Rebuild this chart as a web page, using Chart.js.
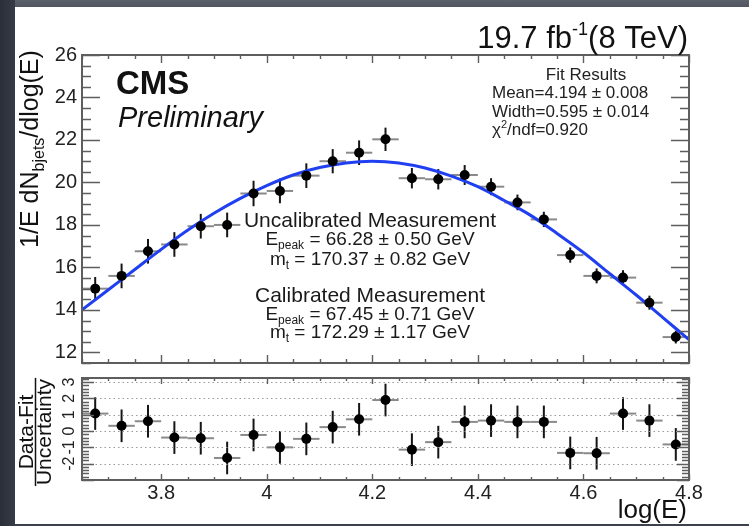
<!DOCTYPE html>
<html lang="en">
<head>
<meta charset="utf-8">
<title>b-jet energy peak</title>
<script src="https://cdn.jsdelivr.net/npm/chart.js@4.4.1/dist/chart.umd.min.js"></script>
<style>
  html, body { margin: 0; padding: 0; }
  body {
    width: 749px; height: 526px; overflow: hidden; position: relative;
    background: linear-gradient(180deg, #5d616b 0px, #50555f 7px, #3c414c 100%);
  }
  #panel { position: absolute; left: 15px; top: 7px; width: 734px; height: 517px; background: #fff; }
  #edge { position: absolute; left: 0; top: 0; width: 15px; height: 526px;
          background: linear-gradient(90deg, #2a2f39, #363b47); }
  canvas { position: absolute; left: 0; }
  #mainChart { top: 0; }
  #pullChart { top: 366px; }
</style>
</head>
<body>
<div id="edge"></div>
<div id="panel"></div>
<canvas id="mainChart" width="749" height="380"></canvas>
<canvas id="pullChart" width="749" height="160"></canvas>
<script>
/* b-jet energy spectrum with Gaussian fit and pull panel */

const FONT = "'Liberation Sans', Arial, Helvetica, sans-serif";

// histogram bins (log E)
const binCenters = [3.675, 3.725, 3.775, 3.825, 3.875, 3.925, 3.975, 4.025, 4.075, 4.125, 4.175, 4.225,
                    4.275, 4.325, 4.375, 4.425, 4.475, 4.525, 4.575, 4.625, 4.675, 4.725, 4.775];
const binHalfWidth = 0.025;
const yields = [15.0, 15.6, 16.76, 17.08, 17.94, 18.0, 19.48, 19.6, 20.32, 21.0, 21.4, 22.03,
                20.2, 20.15, 20.35, 19.8, 19.06, 18.26, 16.58, 15.6, 15.52, 14.34, 12.72];
const yieldErrors = [0.55, 0.58, 0.58, 0.58, 0.58, 0.58, 0.6, 0.58, 0.58, 0.57, 0.58, 0.55,
                     0.48, 0.48, 0.47, 0.4, 0.37, 0.36, 0.36, 0.35, 0.35, 0.33, 0.3];

// fitted curve
const fitX = [3.65, 3.70, 3.75, 3.80, 3.85, 3.90, 3.95, 4.00, 4.05, 4.10, 4.15, 4.20,
              4.25, 4.30, 4.35, 4.40, 4.45, 4.50, 4.55, 4.60, 4.65, 4.70, 4.75, 4.80];
const fitY = [14.0, 14.95, 15.9, 16.85, 17.75, 18.55, 19.25, 19.85, 20.35, 20.7, 20.92, 21.0,
              20.92, 20.68, 20.3, 19.8, 19.15, 18.45, 17.6, 16.7, 15.7, 14.7, 13.65, 12.6];

// (data - fit) / uncertainty
const pulls = [1.07, 0.32, 0.6, -0.4, -0.44, -1.65, -0.24, -1.0, -0.48, 0.24, 0.72, 1.9,
               -1.14, -0.68, 0.56, 0.64, 0.56, 0.56, -1.34, -1.36, 1.07, 0.64, -0.82];
const pullErrors = binCenters.map(() => 1);

const xTicks = [3.8, 4.0, 4.2, 4.4, 4.6, 4.8];
const yTicks = [12, 14, 16, 18, 20, 22, 24, 26];
const pullTicks = [-2, -1, 0, 1, 2, 3];

// ---- text helpers ----
function setFont(ctx, p) {
    ctx.font = `${p.style || ''} ${p.size}px ${FONT}`;
}

function richWidth(ctx, parts) {
    let w = 0;
    parts.forEach(p => { setFont(ctx, p); w += ctx.measureText(p.text).width; });
    return w;
}

function drawRich(ctx, parts, x, y, align) {
    const w = richWidth(ctx, parts);
    let cx = align === 'center' ? x - w / 2 : align === 'right' ? x - w : x;
    ctx.textAlign = 'left';
    ctx.textBaseline = 'alphabetic';
    parts.forEach(p => {
        setFont(ctx, p);
        ctx.fillText(p.text, cx, y + (p.dy || 0));
        cx += ctx.measureText(p.text).width;
    });
}

// ---- ROOT style frame with inward ticks ----
function rootFrame(t) {
    return {
        id: 'rootFrame',
        afterDatasetsDraw(chart) {
            const { ctx, chartArea: a, scales: { x, y } } = chart;
            ctx.save();
            ctx.strokeStyle = '#5e5e5e';
            ctx.lineWidth = 1.4;
            ctx.beginPath();
            const nx = Math.round((x.max - t.xStart) / t.xMinor);
            for (let i = 0; i <= nx; i++) {
                const v = t.xStart + i * t.xMinor;
                const r = v / t.xMajor;
                const len = Math.abs(r - Math.round(r)) < 1e-6 ? t.xMajorLen : t.xMinorLen;
                const px = Math.round(x.getPixelForValue(v)) + 0.5;
                ctx.moveTo(px, a.bottom); ctx.lineTo(px, a.bottom - len);
                ctx.moveTo(px, a.top); ctx.lineTo(px, a.top + len);
            }
            const ny = Math.round((y.max - y.min) / t.yMinor);
            for (let i = 0; i <= ny; i++) {
                const v = y.min + i * t.yMinor;
                const r = v / t.yMajor;
                const len = Math.abs(r - Math.round(r)) < 1e-6 ? t.yMajorLen : t.yMinorLen;
                const py = Math.round(y.getPixelForValue(v)) + 0.5;
                ctx.moveTo(a.left, py); ctx.lineTo(a.left + len, py);
                ctx.moveTo(a.right, py); ctx.lineTo(a.right - len, py);
            }
            ctx.stroke();
            ctx.lineWidth = 2;
            ctx.strokeRect(a.left, a.top, a.right - a.left, a.bottom - a.top);
            ctx.restore();
        }
    };
}

// ---- error bars drawn under the markers ----
function errorBars(values, errors) {
    return {
        id: 'errorBars',
        beforeDatasetsDraw(chart) {
            const { ctx, scales: { x, y } } = chart;
            ctx.save();
            ctx.lineWidth = 2;
            binCenters.forEach((c, i) => {
                const px = x.getPixelForValue(c);
                const py = y.getPixelForValue(values[i]);
                ctx.strokeStyle = '#8a8a8a';
                ctx.beginPath();
                ctx.moveTo(x.getPixelForValue(c - binHalfWidth), py);
                ctx.lineTo(x.getPixelForValue(c + binHalfWidth), py);
                ctx.stroke();
                ctx.strokeStyle = '#151515';
                ctx.beginPath();
                ctx.moveTo(px, y.getPixelForValue(values[i] - errors[i]));
                ctx.lineTo(px, y.getPixelForValue(values[i] + errors[i]));
                ctx.stroke();
            });
            ctx.restore();
        }
    };
}

const mainLabels = {
    id: 'mainLabels',
    afterDraw(chart) {
        const ctx = chart.ctx;
        ctx.save();
        ctx.fillStyle = '#111';

        drawRich(ctx, [
            { text: '19.7 fb', size: 31 },
            { text: '-1', size: 18, dy: -13 },
            { text: '(8 TeV)', size: 31 }
        ], 688, 48, 'right');

        drawRich(ctx, [{ text: 'CMS', size: 33, style: 'bold' }], 116, 94, 'left');
        drawRich(ctx, [{ text: 'Preliminary', size: 29, style: 'italic' }], 118, 127, 'left');

        ctx.fillStyle = '#222';
        drawRich(ctx, [{ text: 'Fit Results', size: 17 }], 586, 80, 'center');
        drawRich(ctx, [{ text: 'Mean=4.194 \u00b1 0.008', size: 17 }], 492, 98, 'left');
        drawRich(ctx, [{ text: 'Width=0.595 \u00b1 0.014', size: 17 }], 492, 117, 'left');
        drawRich(ctx, [
            { text: '\u03c7', size: 17 },
            { text: '2', size: 11, dy: -7 },
            { text: '/ndf=0.920', size: 17 }
        ], 492, 135, 'left');

        ctx.fillStyle = '#1a1a1a';
        const cx = 370;
        drawRich(ctx, [{ text: 'Uncalibrated Measurement', size: 21 }], cx, 227, 'center');
        drawRich(ctx, [
            { text: 'E', size: 19 }, { text: 'peak', size: 12, dy: 4 },
            { text: ' = 66.28 \u00b1 0.50 GeV', size: 19 }
        ], cx, 245, 'center');
        drawRich(ctx, [
            { text: 'm', size: 19 }, { text: 't', size: 12, dy: 4 },
            { text: ' = 170.37 \u00b1 0.82 GeV', size: 19 }
        ], cx, 265, 'center');
        drawRich(ctx, [{ text: 'Calibrated Measurement', size: 21 }], cx, 302, 'center');
        drawRich(ctx, [
            { text: 'E', size: 19 }, { text: 'peak', size: 12, dy: 4 },
            { text: ' = 67.45 \u00b1 0.71 GeV', size: 19 }
        ], cx, 320, 'center');
        drawRich(ctx, [
            { text: 'm', size: 19 }, { text: 't', size: 12, dy: 4 },
            { text: ' = 172.29 \u00b1 1.17 GeV', size: 19 }
        ], cx, 338, 'center');

        // vertical axis title
        ctx.fillStyle = '#111';
        ctx.translate(38, 149);
        ctx.rotate(-Math.PI / 2);
        drawRich(ctx, [
            { text: '1/E dN', size: 25 },
            { text: 'bjets', size: 16, dy: 6 },
            { text: '/dlog(E)', size: 25 }
        ], 0, 0, 'center');
        ctx.restore();
    }
};

const pullLabels = {
    id: 'pullLabels',
    beforeDatasetsDraw(chart) {
        // dotted reference lines
        const { ctx, chartArea: a, scales: { y } } = chart;
        ctx.save();
        ctx.strokeStyle = '#9a9a9a';
        ctx.lineWidth = 1.2;
        ctx.setLineDash([1.5, 3]);
        ctx.beginPath();
        pullTicks.forEach(v => {
            const py = Math.round(y.getPixelForValue(v)) + 0.5;
            ctx.moveTo(a.left, py);
            ctx.lineTo(a.right, py);
        });
        ctx.stroke();
        ctx.restore();
    },
    afterDraw(chart) {
        const { ctx, scales: { y } } = chart;
        ctx.save();
        ctx.fillStyle = '#222';
        ctx.font = `16px ${FONT}`;
        ctx.textAlign = 'center';
        ctx.textBaseline = 'middle';
        pullTicks.forEach(v => {
            ctx.save();
            ctx.translate(70, y.getPixelForValue(v));
            ctx.rotate(-Math.PI / 2);
            ctx.fillText(String(v), 0, 0);
            ctx.restore();
        });

        // fraction-style axis title
        ctx.fillStyle = '#111';
        ctx.translate(0, 66);
        ctx.rotate(-Math.PI / 2);
        drawRich(ctx, [{ text: 'Data-Fit', size: 21 }], 0, 33, 'center');
        drawRich(ctx, [{ text: 'Uncertainty', size: 21 }], 0, 51, 'center');
        const w = richWidth(ctx, [{ text: 'Uncertainty', size: 21 }]);
        ctx.strokeStyle = '#111';
        ctx.lineWidth = 1.5;
        ctx.beginPath();
        ctx.moveTo(-w / 2 - 1, 35.5);
        ctx.lineTo(w / 2 + 1, 35.5);
        ctx.stroke();
        ctx.restore();

        ctx.save();
        ctx.fillStyle = '#111';
        drawRich(ctx, [{ text: 'log(E)', size: 26 }], 687, 152, 'right');
        ctx.restore();
    }
};

function initMainChart() {
    new Chart(document.getElementById('mainChart'), {
        type: 'scatter',
        data: {
            datasets: [
                {
                    data: fitX.map((x, i) => ({ x, y: fitY[i] })),
                    showLine: true,
                    borderColor: '#1f3ff0',
                    borderWidth: 3,
                    pointRadius: 0,
                    cubicInterpolationMode: 'monotone',
                    order: 1
                },
                {
                    data: binCenters.map((x, i) => ({ x, y: yields[i] })),
                    pointRadius: 5,
                    pointBackgroundColor: '#000',
                    pointBorderWidth: 0,
                    order: 0
                }
            ]
        },
        options: {
            responsive: false,
            animation: false,
            events: [],
            layout: { padding: { left: 0, right: 60, top: 55, bottom: 17 } },
            plugins: { legend: { display: false }, tooltip: { enabled: false } },
            scales: {
                x: {
                    type: 'linear', min: 3.65, max: 4.8,
                    grid: { display: false, drawTicks: false },
                    border: { display: false },
                    ticks: { display: false },
                    afterFit: s => { s.height = 0; }
                },
                y: {
                    min: 11.5, max: 26,
                    grid: { display: false, drawTicks: false },
                    border: { display: false },
                    afterBuildTicks: s => { s.ticks = yTicks.map(v => ({ value: v })); },
                    ticks: { color: '#222', font: { family: FONT, size: 20 }, padding: 5 },
                    afterFit: s => { s.width = 82; }
                }
            }
        },
        plugins: [
            errorBars(yields, yieldErrors),
            rootFrame({ xStart: 3.65, xMinor: 0.05, xMajor: 0.2, xMajorLen: 8, xMinorLen: 4,
                        yMinor: 0.5, yMajor: 2, yMajorLen: 18, yMinorLen: 9 }),
            mainLabels
        ]
    });
}

function initPullChart() {
    new Chart(document.getElementById('pullChart'), {
        type: 'scatter',
        data: {
            datasets: [{
                data: binCenters.map((x, i) => ({ x, y: pulls[i] })),
                pointRadius: 5,
                pointBackgroundColor: '#000',
                pointBorderWidth: 0
            }]
        },
        options: {
            responsive: false,
            animation: false,
            events: [],
            layout: { padding: { left: 82, right: 60, top: 12, bottom: 0 } },
            plugins: { legend: { display: false }, tooltip: { enabled: false } },
            scales: {
                x: {
                    type: 'linear', min: 3.65, max: 4.8,
                    grid: { display: false, drawTicks: false },
                    border: { display: false },
                    afterBuildTicks: s => { s.ticks = xTicks.map(v => ({ value: v })); },
                    ticks: {
                        color: '#222', font: { family: FONT, size: 20 }, padding: 1,
                        maxRotation: 0, autoSkip: false,
                        callback: v => Number(v).toFixed(1).replace(/\.0$/, '')
                    },
                    afterFit: s => { s.height = 46; }
                },
                y: {
                    min: -3, max: 3.25,
                    grid: { display: false, drawTicks: false },
                    border: { display: false },
                    ticks: { display: false },
                    afterFit: s => { s.width = 0; }
                }
            }
        },
        plugins: [
            errorBars(pulls, pullErrors),
            rootFrame({ xStart: 3.65, xMinor: 0.05, xMajor: 0.2, xMajorLen: 6, xMinorLen: 3,
                        yMinor: 0.2, yMajor: 1, yMajorLen: 12, yMinorLen: 7 }),
            pullLabels
        ]
    });
}

document.addEventListener('DOMContentLoaded', () => {
    initMainChart();
    initPullChart();
});
</script>
</body>
</html>
